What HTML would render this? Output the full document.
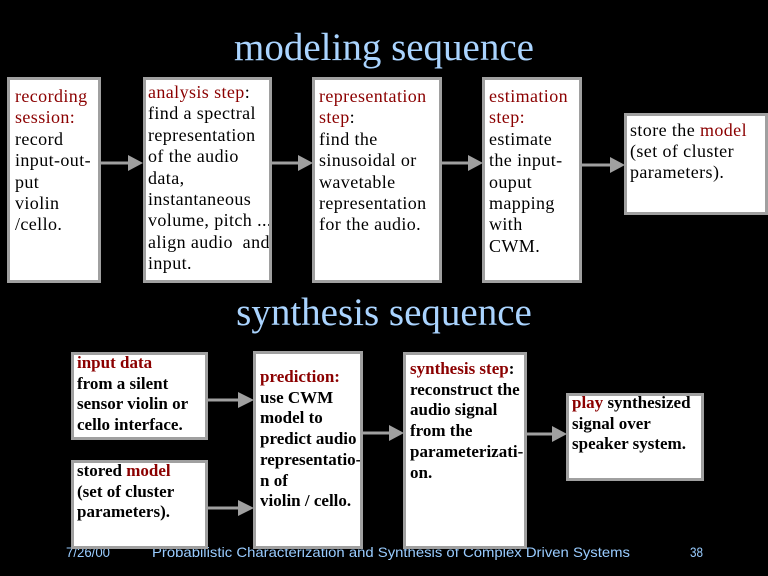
<!DOCTYPE html>
<html>
<head>
<meta charset="utf-8">
<style>
  html, body { margin:0; padding:0; }
  body { width:768px; height:576px; background:#000; position:relative; overflow:hidden; }
  .title { position:absolute; left:0; width:768px; text-align:center; font-family:"Liberation Serif", serif; font-size:39px; line-height:39px; color:#aad4ff; white-space:nowrap; }
  .box { position:absolute; box-sizing:border-box; background:#fff; border:3px solid #a0a0a0; overflow:hidden; }
  .t { position:absolute; font-family:"Liberation Serif", serif; font-size:18px; line-height:21.4px; letter-spacing:0.4px; color:#000; white-space:nowrap; }
  .b { position:absolute; font-family:"Liberation Serif", serif; font-size:17px; font-weight:bold; line-height:20.7px; color:#000; white-space:nowrap; }
  .r { color:#8b0000; }
  svg { position:absolute; left:0; top:0; }
</style>
</head>
<body>

<svg width="768" height="576" viewBox="0 0 768 576">
  <g font-family="Liberation Sans, Arial, sans-serif" font-size="14" fill="#99ccff">
    <text x="66" y="557" textLength="44" lengthAdjust="spacingAndGlyphs">7/26/00</text>
    <text x="152" y="557" textLength="478" lengthAdjust="spacingAndGlyphs">Probabilistic Characterization and Synthesis of Complex Driven Systems</text>
    <text x="690" y="557" textLength="13" lengthAdjust="spacingAndGlyphs">38</text>
  </g>
</svg>

<div class="title" style="top:28px;">modeling sequence</div>
<div class="title" style="top:293px;">synthesis sequence</div>

<!-- arrows -->
<svg width="768" height="576" viewBox="0 0 768 576">
  <g stroke="#a0a0a0" stroke-width="3" fill="none">
    <line x1="101" y1="163" x2="130" y2="163"/>
    <line x1="272" y1="163" x2="300" y2="163"/>
    <line x1="442" y1="163" x2="470" y2="163"/>
    <line x1="582" y1="165" x2="612" y2="165"/>
    <line x1="208" y1="400" x2="240" y2="400"/>
    <line x1="208" y1="508" x2="240" y2="508"/>
    <line x1="363" y1="433" x2="391" y2="433"/>
    <line x1="527" y1="434" x2="554" y2="434"/>
  </g>
  <g fill="#a0a0a0">
    <polygon points="128,155 143,163 128,171"/>
    <polygon points="298,155 313,163 298,171"/>
    <polygon points="468,155 483,163 468,171"/>
    <polygon points="610,157 625,165 610,173"/>
    <polygon points="238,392 254,400 238,408"/>
    <polygon points="238,500 254,508 238,516"/>
    <polygon points="389,425 404,433 389,441"/>
    <polygon points="552,426 567,434 552,442"/>
  </g>
</svg>

<!-- modeling boxes -->
<div class="box" style="left:7px; top:77px; width:94px; height:206px;">
  <div class="t" style="left:5px; top:6px;"><span class="r">recording</span><br><span class="r">session:</span><br>record<br>input-out-<br>put<br>violin<br>/cello.</div>
</div>
<div class="box" style="left:143px; top:77px; width:129px; height:206px;">
  <div class="t" style="left:2px; top:2px;"><span class="r">analysis step</span>:<br>find a spectral<br>representation<br>of the audio<br>data,<br>instantaneous<br>volume, pitch ...<br>align audio&nbsp; and<br>input.</div>
</div>
<div class="box" style="left:312px; top:77px; width:130px; height:206px;">
  <div class="t" style="left:4px; top:6px;"><span class="r">representation</span><br><span class="r">step</span>:<br>find the<br>sinusoidal or<br>wavetable<br>representation<br>for the audio.</div>
</div>
<div class="box" style="left:482px; top:77px; width:100px; height:206px;">
  <div class="t" style="left:4px; top:6px;"><span class="r">estimation</span><br><span class="r">step:</span><br>estimate<br>the input-<br>ouput<br>mapping<br>with<br>CWM.</div>
</div>
<div class="box" style="left:624px; top:113px; width:144px; height:102px;">
  <div class="t" style="left:3px; top:4px; line-height:21px;">store the <span class="r">model</span><br>(set of cluster<br>parameters).</div>
</div>

<!-- synthesis boxes -->
<div class="box" style="left:71px; top:352px; width:137px; height:88px;">
  <div class="b" style="left:3px; top:-2px;"><span class="r">input data</span><br>from a silent<br>sensor violin or<br>cello interface.</div>
</div>
<div class="box" style="left:71px; top:460px; width:137px; height:89px;">
  <div class="b" style="left:3px; top:-2px;">stored <span class="r">model</span><br>(set of cluster<br>parameters).</div>
</div>
<div class="box" style="left:253px; top:351px; width:110px; height:198px;">
  <div class="b" style="left:4px; top:13px;"><span class="r">prediction:</span><br>use CWM<br>model to<br>predict audio<br>representatio-<br>n of<br>violin / cello.</div>
</div>
<div class="box" style="left:403px; top:352px; width:124px; height:197px;">
  <div class="b" style="left:4px; top:4px;"><span class="r">synthesis step</span>:<br>reconstruct the<br>audio signal<br>from the<br>parameterizati-<br>on.</div>
</div>
<div class="box" style="left:566px; top:393px; width:138px; height:88px;">
  <div class="b" style="left:3px; top:-3px;"><span class="r">play</span> synthesized<br>signal over<br>speaker system.</div>
</div>

</body>
</html>
